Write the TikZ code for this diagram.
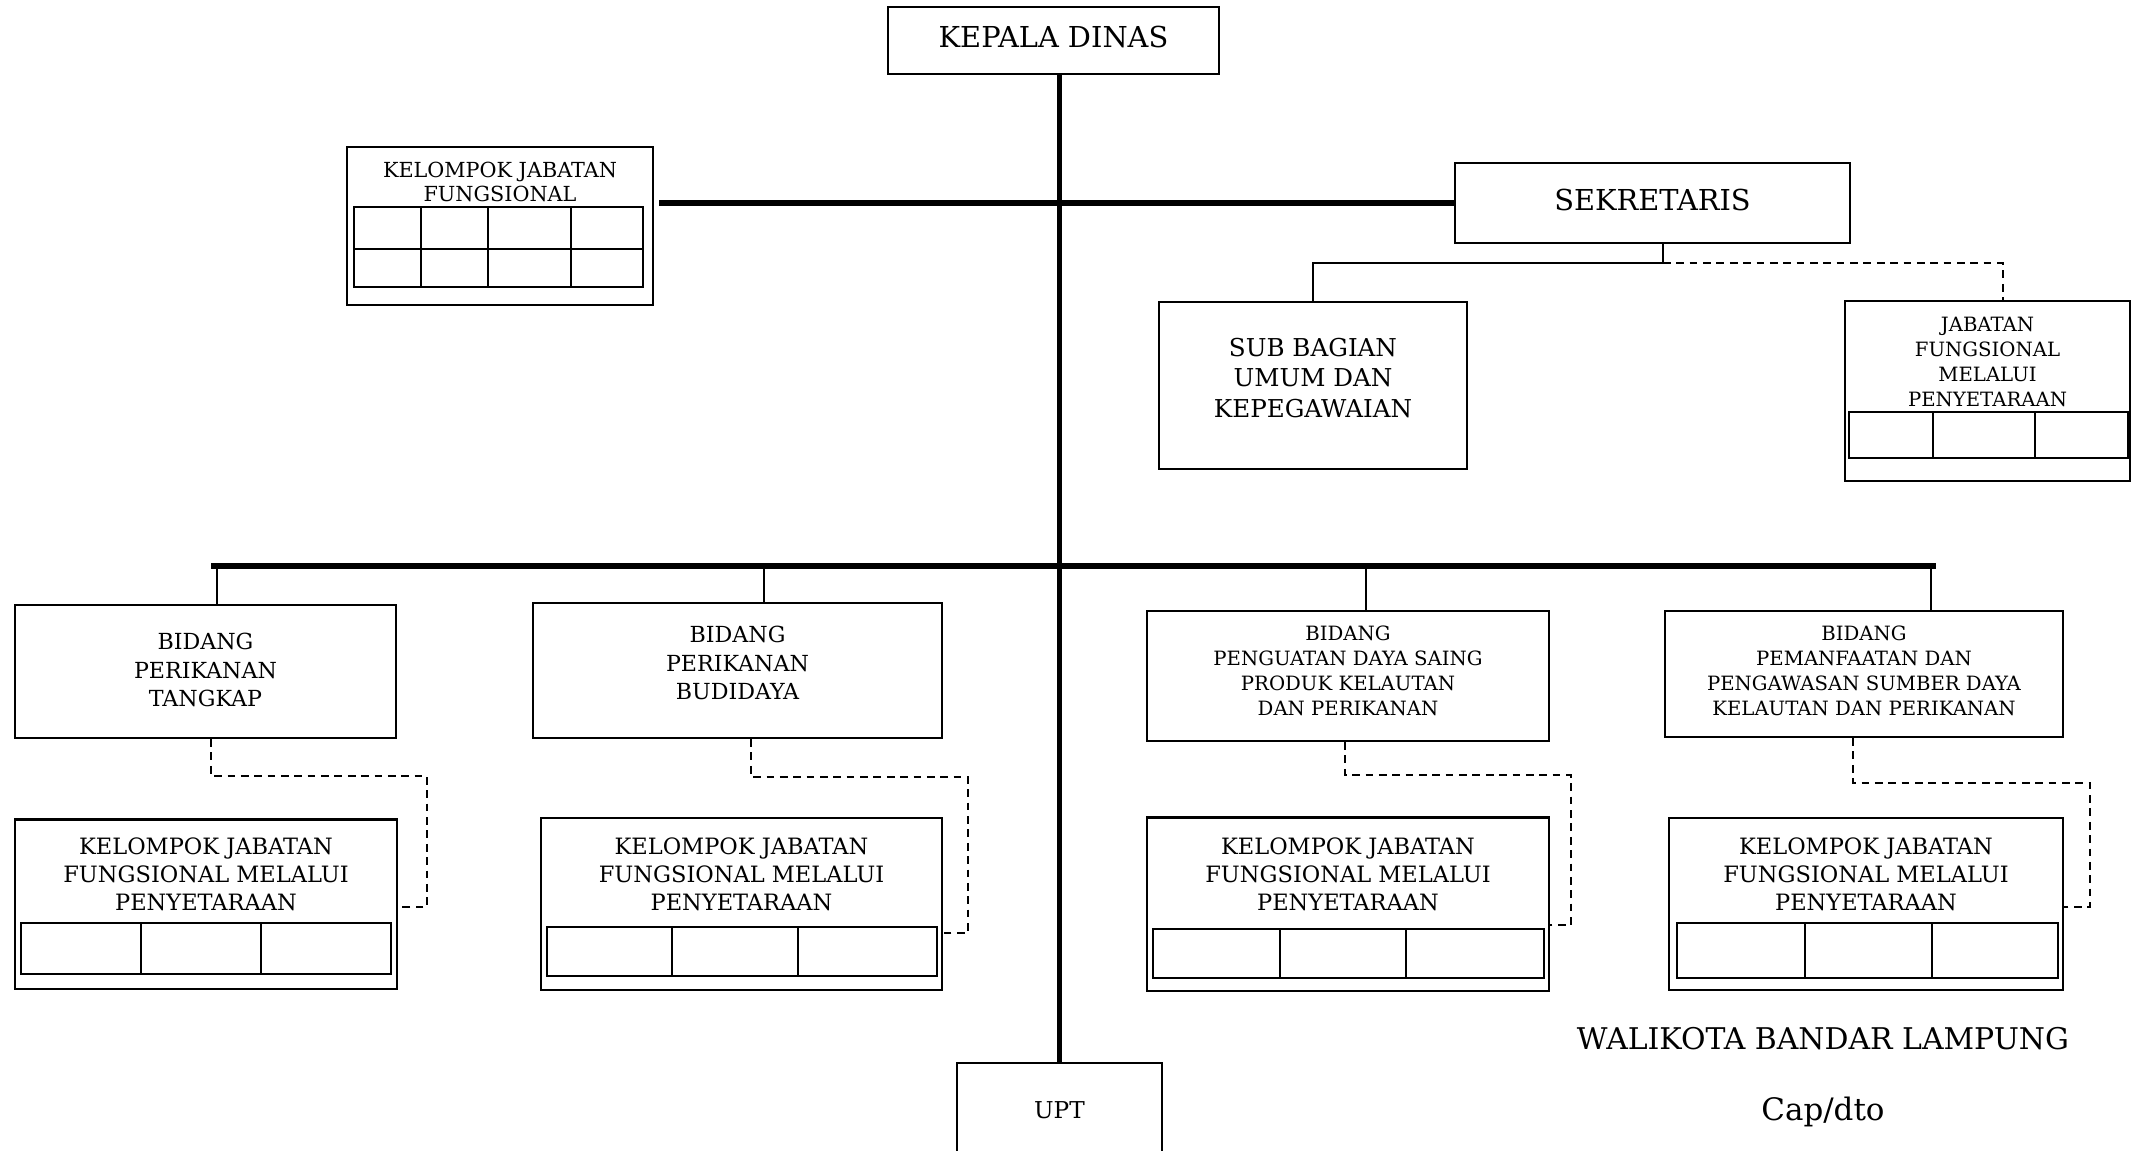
\documentclass[tikz,border=0pt]{standalone}
\usepackage{fontspec}
\setmainfont{DejaVu Serif}
\begin{document}
\begin{tikzpicture}[x=0.01cm, y=-0.01cm,
        box/.style={draw, line width=0.6pt, inner sep=0pt},
        cell/.style={line width=0.7pt},
        mainline/.style={line width=1.6pt},
        conn/.style={line width=0.6pt},
        dashconn/.style={line width=0.6pt, dash pattern=on 2.2pt off 1.6pt},
        headtxt/.style={font=\fontsize{8.2}{10}\selectfont, text height=0.2cm, text depth=0.06cm},
        subtxt/.style={align=center, font=\fontsize{7}{8.8}\selectfont},
        bidtxt/.style={align=center, font=\fontsize{6.3}{8}\selectfont},
        smalltxt/.style={align=center, font=\fontsize{5.6}{7.1}\selectfont},
        keltxt/.style={align=center, font=\fontsize{6.4}{8}\selectfont}]
        \useasboundingbox (0,0) rectangle (2138,1150);
        % atas
        \node[box, minimum width=3.31cm, minimum height=0.67cm, headtxt] (kadis) at (1053.5,40.5) {KEPALA DINAS};
        \node[box, minimum width=3.06cm, minimum height=1.58cm] (kjf) at (500,226) {};
        \node[smalltxt, font=\fontsize{5.9}{6.6}\selectfont] (kjftxt) at (500,182) {KELOMPOK JABATAN\\FUNGSIONAL};
        \node[box, minimum width=3.95cm, minimum height=0.80cm, headtxt] (sek) at (1652.5,203) {SEKRETARIS};
        \node[box, minimum width=3.08cm, minimum height=1.67cm] (sub) at (1313,385.5) {};
        \node[subtxt] (subtxt) at (1313,378) {SUB BAGIAN\\UMUM DAN\\KEPEGAWAIAN};
        \node[box, minimum width=2.85cm, minimum height=1.80cm] (jab) at (1987.5,391) {};
        \node[smalltxt] (jabtxt) at (1987.5,362) {JABATAN\\FUNGSIONAL\\MELALUI\\PENYETARAAN};
        % bidang
        \node[box, minimum width=3.81cm, minimum height=1.33cm] (bid1) at (205.5,671.5) {};
        \node[bidtxt] (bid1txt) at (205.5,670) {BIDANG\\PERIKANAN\\TANGKAP};
        \node[box, minimum width=4.09cm, minimum height=1.35cm] (bid2) at (737.5,670.5) {};
        \node[bidtxt] (bid2txt) at (737.5,663) {BIDANG\\PERIKANAN\\BUDIDAYA};
        \node[box, minimum width=4.02cm, minimum height=1.30cm] (bid3) at (1348,676) {};
        \node[smalltxt] (bid3txt) at (1348,670.5) {BIDANG\\PENGUATAN DAYA SAING\\PRODUK KELAUTAN\\DAN PERIKANAN};
        \node[box, minimum width=3.98cm, minimum height=1.26cm] (bid4) at (1864,674) {};
        \node[smalltxt] (bid4txt) at (1864,670.5) {BIDANG\\PEMANFAATAN DAN\\PENGAWASAN SUMBER DAYA\\KELAUTAN DAN PERIKANAN};
        % kelompok jabatan
        \foreach \n/\x/\w/\h in {1/206/3.82/1.69, 2/741.5/4.01/1.72, 3/1348/4.02/1.73, 4/1866/3.93/1.72}{
            \node[box, minimum width=\w cm, minimum height=\h cm] (kel\n) at (\x,904) {};
            \node[keltxt] (kel\n txt) at (\x,874) {KELOMPOK JABATAN\\FUNGSIONAL MELALUI\\PENYETARAAN};
        }
        \node[box, minimum width=2.05cm, minimum height=0.94cm, font=\fontsize{6.6}{8}\selectfont] (upt) at (1059.5,1110) {UPT};
        \node[font=\fontsize{8.5}{10}\selectfont] (wali) at (1823,1039) {WALIKOTA BANDAR LAMPUNG};
        \node[font=\fontsize{8.8}{10}\selectfont] (cap) at (1823,1112) {Cap/dto};
        % tabel
        \draw[cell] (354,207) rectangle (643,287) (354,249) -- (643,249);
        \foreach \c in {421, 488, 571}{
            \draw[cell] (\c,207) -- (\c,287);
        }
        \foreach \a/\b/\c/\d/\e/\f in {1849/412/2128/458/1933/2035, 21/923/391/974/141/261, 547/927/937/976/672/798, 1153/929/1544/978/1280/1406, 1677/923/2058/978/1805/1932}{
            \draw[cell] (\a,\b) rectangle (\c,\d) (\e,\b) -- (\e,\d) (\f,\b) -- (\f,\d);
        }
        % garis
        \draw[mainline] (upt.north |- kadis.south) -- (upt.north);
        \draw[mainline] ([xshift=0.05cm]kjf.east |- sek.west) -- (sek.west);
        \coordinate (busl) at (211,566);
        \coordinate (busr) at (1936,566);
        \draw[mainline] (busl) -- (busr);
        \foreach \n/\x in {1/217, 2/764, 3/1366, 4/1931}{
            \coordinate (d\n) at (\x,566);
            \draw[conn] (d\n) -- (d\n |- bid\n.north);
        }
        \coordinate (s1) at (1663,263);
        \coordinate (s2) at (2003,263);
        \draw[conn] (s1 |- sek.south) -- (s1) -- (sub.north |- s1) -- (sub.north);
        \draw[dashconn] (s1) -- (s2) -- (s2 |- jab.north);
        \foreach \n/\a/\m/\r/\e in {1/211/776/427/907, 2/751/777/968/933, 3/1345/775/1571/925, 4/1853/783/2090/907}{
            \draw[dashconn] (\a,0 |- bid\n.south) -- (\a,\m) -- (\r,\m) -- (\r,\e) -- (kel\n.east |- {(\r,\e)});
        }
\end{tikzpicture}
\end{document}
